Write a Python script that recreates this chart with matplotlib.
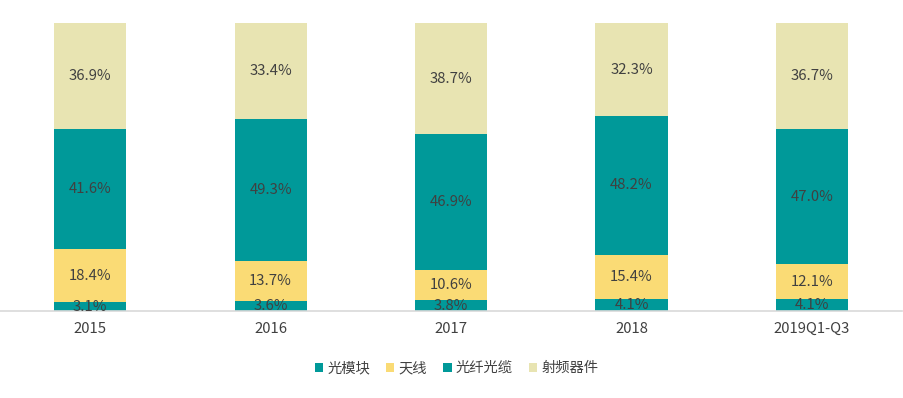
import matplotlib
matplotlib.use('Agg')
import matplotlib.pyplot as plt
import numpy as np

plt.rcParams['font.family'] = ['Noto Sans CJK SC', 'DejaVu Sans']

years = ['2015', '2016', '2017', '2018', '2019Q1-Q3']
optical_module = [3.1, 3.6, 3.8, 4.1, 4.1]     # 光模块
antenna = [18.4, 13.7, 10.6, 15.4, 12.1]       # 天线
fiber_cable = [41.6, 49.3, 46.9, 48.2, 47.0]   # 光纤光缆
rf_device = [36.9, 33.4, 38.7, 32.3, 36.7]     # 射频器件

names = ['光模块', '天线', '光纤光缆', '射频器件']
colors = ['#009999', '#FADB75', '#009999', '#E8E4B2']
series = [optical_module, antenna, fiber_cable, rf_device]

fig = plt.figure(figsize=(9.04, 3.98), dpi=100)
ax = fig.add_axes([0, 0.2186, 0.998, 0.7236])

x = np.arange(len(years))
bottom = np.zeros(len(years))
for name, vals, c in zip(names, series, colors):
    vals = np.array(vals)
    ax.bar(x, vals, 0.4, bottom=bottom, color=c, label=name)
    for xi, b, v in zip(x, bottom, vals):
        ax.text(xi, b + v / 2, '{:.1f}%'.format(v), ha='center', va='center',
                fontsize=10.7, color='#404040')
    bottom += vals

ax.set_xlim(-0.5, len(years) - 0.5)
ax.set_ylim(0, 100)
ax.set_xticks(x)
ax.set_xticklabels(years, fontsize=10.7, color='#404040')
ax.tick_params(axis='x', length=0, pad=8)
ax.set_yticks([])
for s in ['top', 'right', 'left']:
    ax.spines[s].set_visible(False)
ax.spines['bottom'].set_color('#D9D9D9')
ax.spines['bottom'].set_linewidth(1.2)

fig.legend(loc='center', bbox_to_anchor=(0.505, 0.075), ncol=4, frameon=False,
           fontsize=10.3, handlelength=0.6, handleheight=0.6, handletextpad=0.3,
           columnspacing=1.1, labelcolor='#404040')

fig.savefig('out.png', dpi=100)
